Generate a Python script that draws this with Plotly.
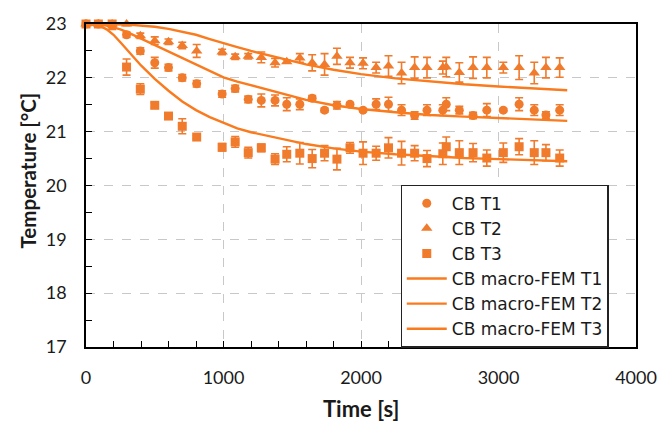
import plotly.graph_objects as go

# measurement times [s]
t_meas = [0, 90, 190, 295, 395, 500, 600, 700, 805, 990, 1085, 1180, 1275, 1375,
          1460, 1555, 1645, 1735, 1825, 1920, 2015, 2110, 2200, 2295, 2390, 2480,
          2595, 2620, 2715, 2815, 2915, 3035, 3150, 3260, 3345, 3445]

cb_t1 = [23.0, 23.0, 22.98, 22.8, 22.5, 22.28, 22.19, 22.0, 21.89, 21.7, 21.8, 21.6,
         21.58, 21.58, 21.51, 21.51, 21.62, 21.4, 21.49, 21.51, 21.4, 21.51, 21.51,
         21.4, 21.3, 21.4, 21.4, 21.51, 21.4, 21.3, 21.4, 21.4, 21.51, 21.4, 21.31, 21.4]
cb_t1_err = [0, 0, 0.03, 0.05, 0.06, 0.1, 0.06, 0.06, 0.06, 0.06, 0.06, 0.06, 0.12,
             0.1, 0.12, 0.1, 0.05, 0.04, 0.07, 0.03, 0.03, 0.1, 0.13, 0.1, 0.07, 0.1,
             0.1, 0.12, 0.07, 0.06, 0.12, 0.03, 0.12, 0.1, 0.06, 0.1]

cb_t2 = [23.0, 23.0, 23.0, 23.0, 22.78, 22.69, 22.67, 22.6, 22.5, 22.48, 22.39, 22.4,
         22.38, 22.28, 22.3, 22.37, 22.28, 22.25, 22.4, 22.28, 22.27, 22.19, 22.22,
         22.09, 22.19, 22.19, 22.19, 22.2, 22.1, 22.19, 22.19, 22.19, 22.19, 22.09,
         22.19, 22.19]
cb_t2_err = [0, 0, 0.02, 0.03, 0.05, 0.07, 0.05, 0.06, 0.12, 0.05, 0.05, 0.05, 0.1,
             0.08, 0.03, 0.08, 0.15, 0.2, 0.15, 0.1, 0.1, 0.1, 0.19, 0.2, 0.2, 0.19,
             0.12, 0.18, 0.18, 0.2, 0.19, 0.1, 0.22, 0.2, 0.19, 0.18]

cb_t3 = [23.0, 23.0, 23.0, 22.2, 21.79, 21.49, 21.29, 21.1, 20.9, 20.71, 20.81, 20.61,
         20.7, 20.49, 20.58, 20.6, 20.5, 20.6, 20.49, 20.7, 20.6, 20.6, 20.7, 20.6,
         20.6, 20.5, 20.59, 20.72, 20.61, 20.61, 20.51, 20.61, 20.72, 20.61, 20.61, 20.51]
cb_t3_err = [0, 0, 0.1, 0.15, 0.1, 0.05, 0.03, 0.14, 0.03, 0.07, 0.1, 0.1, 0.07, 0.1,
             0.14, 0.2, 0.17, 0.14, 0.2, 0.1, 0.21, 0.13, 0.19, 0.22, 0.14, 0.15,
             0.2, 0.18, 0.22, 0.17, 0.15, 0.18, 0.15, 0.22, 0.15, 0.15]

# macro-FEM model curves
t_model = [0, 100, 150, 200, 250, 300, 350, 400, 500, 600, 700, 800, 900, 1000, 1100,
           1200, 1400, 1600, 1800, 2000, 2250, 2500, 2750, 3000, 3250, 3500]
fem_t1 = [23.0, 22.99, 22.97, 22.94, 22.9, 22.85, 22.79, 22.73, 22.61, 22.49, 22.37,
          22.25, 22.12, 22.01, 21.93, 21.86, 21.73, 21.59, 21.49, 21.42, 21.36, 21.31,
          21.28, 21.25, 21.22, 21.2]
fem_t2 = [23.0, 23.0, 23.0, 23.0, 22.995, 22.99, 22.98, 22.97, 22.95, 22.91, 22.86,
          22.8, 22.72, 22.64, 22.57, 22.5, 22.37, 22.25, 22.15, 22.07, 21.99, 21.93,
          21.88, 21.84, 21.81, 21.77]
fem_t3 = [23.0, 22.97, 22.9, 22.8, 22.66, 22.52, 22.37, 22.23, 21.98, 21.76, 21.56,
          21.4, 21.27, 21.16, 21.06, 20.99, 20.88, 20.77, 20.69, 20.63, 20.58, 20.54,
          20.51, 20.49, 20.47, 20.45]

ORANGE = "#F07B2C"
LINE = "#FA7A1E"
FONT = "Lato"

fig = go.Figure()

def meas(name, y, err, symbol, size):
    fig.add_trace(go.Scatter(
        x=t_meas, y=y, mode="markers", name=name,
        marker=dict(symbol=symbol, size=size, color=ORANGE),
        error_y=dict(type="data", array=err, visible=True, color=ORANGE,
                     thickness=1.6, width=4),
        cliponaxis=False))

meas("CB T1", cb_t1, cb_t1_err, "circle", 9)
meas("CB T2", cb_t2, cb_t2_err, "triangle-up", 10)
meas("CB T3", cb_t3, cb_t3_err, "square", 9)

for name, y in [("CB macro-FEM T1", fem_t1), ("CB macro-FEM T2", fem_t2),
                ("CB macro-FEM T3", fem_t3)]:
    fig.add_trace(go.Scatter(x=t_model, y=y, mode="lines", name=name,
                             line=dict(color=LINE, width=2.4, shape="linear")))

W, H = 669, 429
L, R, T, B = 86, 27, 17, 82
pw, ph = W - L - R, H - T - B

fig.update_layout(
    width=W, height=H,
    margin=dict(l=L, r=R, t=T, b=B),
    paper_bgcolor="white", plot_bgcolor="white",
    font=dict(family=FONT, size=18, color="#1a1a1a"),
    showlegend=True,
    legend=dict(x=(404 - L) / pw, y=(H - B - 181) / ph, xanchor="left", yanchor="top",
                bordercolor="#222", borderwidth=1.2, bgcolor="white",
                font=dict(family="DejaVu Sans", size=17, color="#1a1a1a"),
                tracegroupgap=0, itemwidth=40),
    annotations=[
        dict(text="<b>Time [s]</b>", x=(364 - L) / pw, y=(H - B - 410) / ph,
             xref="paper", yref="paper", xanchor="center", yanchor="middle",
             showarrow=False, font=dict(size=22)),
        dict(text="<b>Temperature [°C]</b>", textangle=-90, showarrow=False,
             x=(27 - L) / pw, y=(H - B - 167) / ph, xref="paper", yref="paper",
             xanchor="center", yanchor="middle", font=dict(size=20.5)),
    ],
)

fig.update_xaxes(
    range=[0, 4000], tickvals=[0, 1000, 2000, 3000, 4000],
    showline=True, linecolor="black", linewidth=1.5, mirror=True,
    ticks="inside", ticklen=6, tickwidth=1, tickcolor="black",
    minor=dict(dtick=200, ticks="inside", ticklen=6, tickcolor="black", showgrid=False),
    showgrid=True, gridcolor="#C8C8C8", griddash="dash", gridwidth=1,
    zeroline=False, ticklabelstandoff=14,
)
fig.update_yaxes(
    range=[17, 23], dtick=1,
    showline=True, linecolor="black", linewidth=1.5, mirror=True,
    ticks="inside", ticklen=6, tickwidth=1, tickcolor="black",
    minor=dict(dtick=0.5, ticks="inside", ticklen=6, tickcolor="black", showgrid=False),
    showgrid=True, gridcolor="#C8C8C8", griddash="dash", gridwidth=1,
    zeroline=False, ticklabelstandoff=14,
)

fig.write_html("out.html")
